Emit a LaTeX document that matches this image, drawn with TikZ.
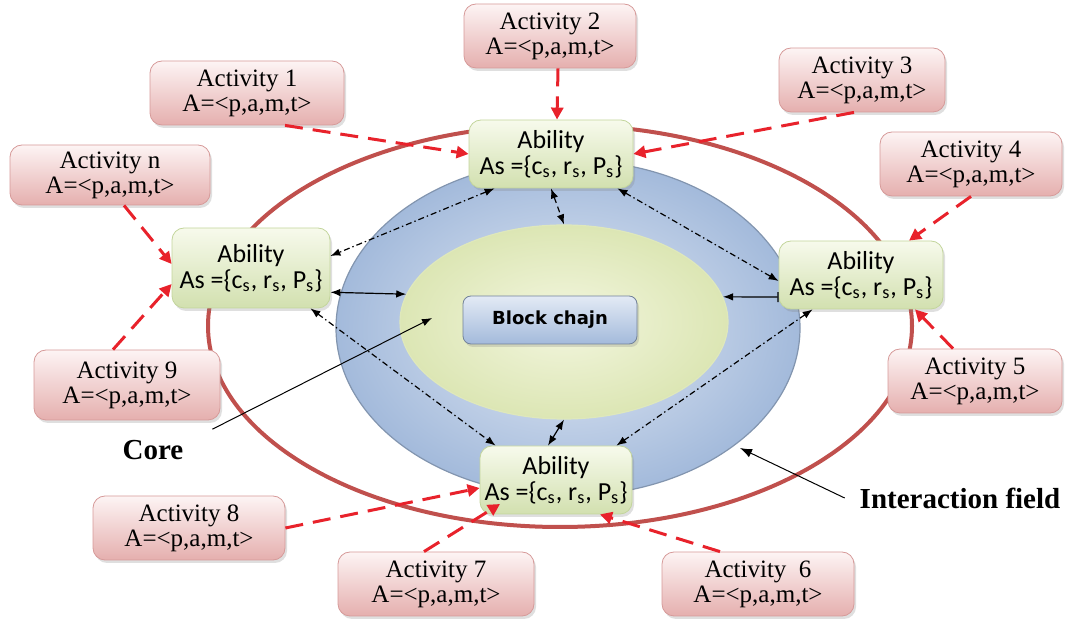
\documentclass[tikz,border=0pt]{standalone}
\usepackage{fontspec}
\setmainfont{Liberation Serif}
\newfontfamily\abfont{Carlito}
\newfontfamily\blkfont{DejaVu Sans}
\usetikzlibrary{arrows.meta,shapes.geometric,shadows}
\definecolor{actline}{HTML}{D69A99}
\definecolor{actlight}{HTML}{FDF4F4}
\definecolor{actdark}{HTML}{E5AFAE}
\definecolor{abline}{HTML}{C3D59C}
\definecolor{ablight}{HTML}{F7FAEC}
\definecolor{abdark}{HTML}{D2E0AF}
\definecolor{dashred}{HTML}{E8222B}
\definecolor{ringred}{HTML}{C0504D}
\definecolor{fieldin}{HTML}{E3EAF5}
\definecolor{fieldout}{HTML}{A3BADB}
\definecolor{coreout}{HTML}{DCE6B4}
\definecolor{corein}{HTML}{F3F6DF}

\begin{document}
\begin{tikzpicture}[
x=0.5pt, y=-0.5pt,
actbox/.style={draw=actline, rounded corners=6pt, top color=actlight, bottom color=actdark,
  minimum width=94pt, minimum height=32pt, align=center, inner sep=1pt,
  font=\fontsize{12.5}{12.5}\selectfont,
  drop shadow={opacity=0.25, shadow xshift=1pt, shadow yshift=-1.5pt}},
abbox/.style={draw=abline, rounded corners=6pt, top color=ablight, bottom color=abdark,
  minimum width=82pt, minimum height=34pt, align=center, inner sep=1pt,
  font=\abfont\fontsize{13}{13}\selectfont,
  drop shadow={opacity=0.25, shadow xshift=1pt, shadow yshift=-1.5pt}},
reddash/.style={-{Triangle[length=6pt,width=6pt]}, draw=dashred, line width=1.5pt,
  dash pattern=on 9pt off 5pt},
link/.style={{Latex[length=5pt]}-{Latex[length=5pt]}, draw=black, line width=0.6pt},
dlink/.style={link, dash pattern=on 3pt off 1.5pt on 0.7pt off 1.5pt},
lbl/.style={font=\bfseries\fontsize{14.5}{16}\selectfont},
]
\useasboundingbox (0,0) rectangle (1071,619);

\node [ellipse, draw=ringred, line width=2pt, minimum width=352pt, minimum height=201pt, inner sep=0pt] (ring) at (560,326) {};
\node [ellipse, draw=fieldout!80!black, line width=0.6pt, shading=radial, inner color=fieldin, outer color=fieldout,
  minimum width=232pt, minimum height=168pt, inner sep=0pt] (field) at (568,328) {};
\node [ellipse, draw=coreout!90!white, line width=0.6pt, shading=radial, inner color=corein, outer color=coreout,
  minimum width=164pt, minimum height=97pt, inner sep=0pt] (core) at (564,322) {};
\node [draw=fieldout!70!black, rounded corners=4pt, top color=fieldin, bottom color=fieldout,
  minimum width=87pt, minimum height=24pt, font=\blkfont\bfseries\fontsize{9}{10}\selectfont,
  drop shadow={opacity=0.25, shadow xshift=1pt, shadow yshift=-1.5pt}] (blk) at (550,320) {Block chajn};

\node [abbox] (b1) at (551,154) {Ability\\As =\{c\textsubscript{s}, r\textsubscript{s}, P\textsubscript{s}\}};
\node [abbox] (b2) at (861,275) {Ability\\As =\{c\textsubscript{s}, r\textsubscript{s}, P\textsubscript{s}\}};
\node [abbox, minimum width=76pt] (b3) at (556,480) {Ability\\As =\{c\textsubscript{s}, r\textsubscript{s}, P\textsubscript{s}\}};
\node [abbox, minimum width=79pt, minimum height=40pt] (b4) at (251,268) {Ability\\As =\{c\textsubscript{s}, r\textsubscript{s}, P\textsubscript{s}\}};

\node [actbox, minimum width=97pt] (a1) at (247,93) {Activity 1\\A=<p,a,m,t>};
\node [actbox, minimum width=86pt] (a2) at (550,36) {Activity 2\\A=<p,a,m,t>};
\node [actbox, minimum width=83pt] (a3) at (862,80) {Activity 3\\A=<p,a,m,t>};
\node [actbox, minimum width=100pt, minimum height=30pt] (an) at (110,175) {Activity n\\A=<p,a,m,t>};
\node [actbox, minimum width=91pt] (a4) at (971,164) {Activity 4\\A=<p,a,m,t>};
\node [actbox, minimum width=93pt, minimum height=35pt] (a9) at (127,385) {Activity 9\\A=<p,a,m,t>};
\node [actbox, minimum width=87pt] (a5) at (975,381) {Activity 5\\A=<p,a,m,t>};
\node [actbox, minimum width=96pt] (a8) at (189,528) {Activity 8\\A=<p,a,m,t>};
\node [actbox, minimum width=98pt] (a7) at (436,584) {Activity 7\\A=<p,a,m,t>};
\node [actbox, minimum width=96pt] (a6) at (758,584) {Activity\ \ 6\\A=<p,a,m,t>};

\node [lbl] (lcore) at (153,450) {Core};
\node [lbl] (lfield) at (960,498) {Interaction field};
\coordinate (cp) at (432,318);
\coordinate (fp) at (740,448);

\path[reddash] ([xshift=19pt]a1.south) -- (b1.west);
\path[reddash] ([xshift=4pt]a2.south) -- ([xshift=3pt]b1.north);
\path[reddash] ([xshift=-4pt]a3.south) -- (b1.east);
\path[reddash] ([xshift=7pt]an.south) -- ([yshift=2pt]b4.west);
\path[reddash] ([xshift=-7pt]a9.north) -- ([yshift=-8pt]b4.west);
\path[reddash] (a4.south) -- ([xshift=24pt]b2.north);
\path[reddash] ([xshift=-11pt]a5.north) -- ([xshift=27pt]b2.south);
\path[reddash] (a8.east) -- ([yshift=-4pt]b3.west);
\path[reddash] ([xshift=-6pt]a7.north) -- ([xshift=-28pt,yshift=-12pt]b3.center);
\path[reddash] ([xshift=-19pt]a6.north) -- ([xshift=22pt]b3.south);

\path[link] (b4.-17) -- (core.170);
\path[link, {Latex[length=5pt]}-{Bar[width=5pt]}] (core.9) -- (b2.195);
\path[link, dash pattern=on 3pt off 2pt] (b1.south) -- (core.north);
\path[link] (core.south) -- ([xshift=-4pt]b3.north);
\path[dlink] ([xshift=13pt]b1.south west) -- ([yshift=6pt]b4.east);
\path[dlink] ([xshift=-8pt]b1.south east) -- ([yshift=-3pt]b2.west);
\path[dlink] ([xshift=17pt]b2.south west) -- ([xshift=-8pt]b3.north east);
\path[dlink] ([xshift=-10pt]b4.south east) -- ([xshift=8pt]b3.north west);

\path[-{Latex[length=5pt]}, draw=black, line width=0.5pt] ([xshift=11pt,yshift=2pt]lcore.north east) -- (cp);
\path[-{Latex[length=6pt]}, draw=black, line width=0.5pt] ([xshift=-4pt]lfield.west) -- (fp);

\end{tikzpicture}
\end{document}
